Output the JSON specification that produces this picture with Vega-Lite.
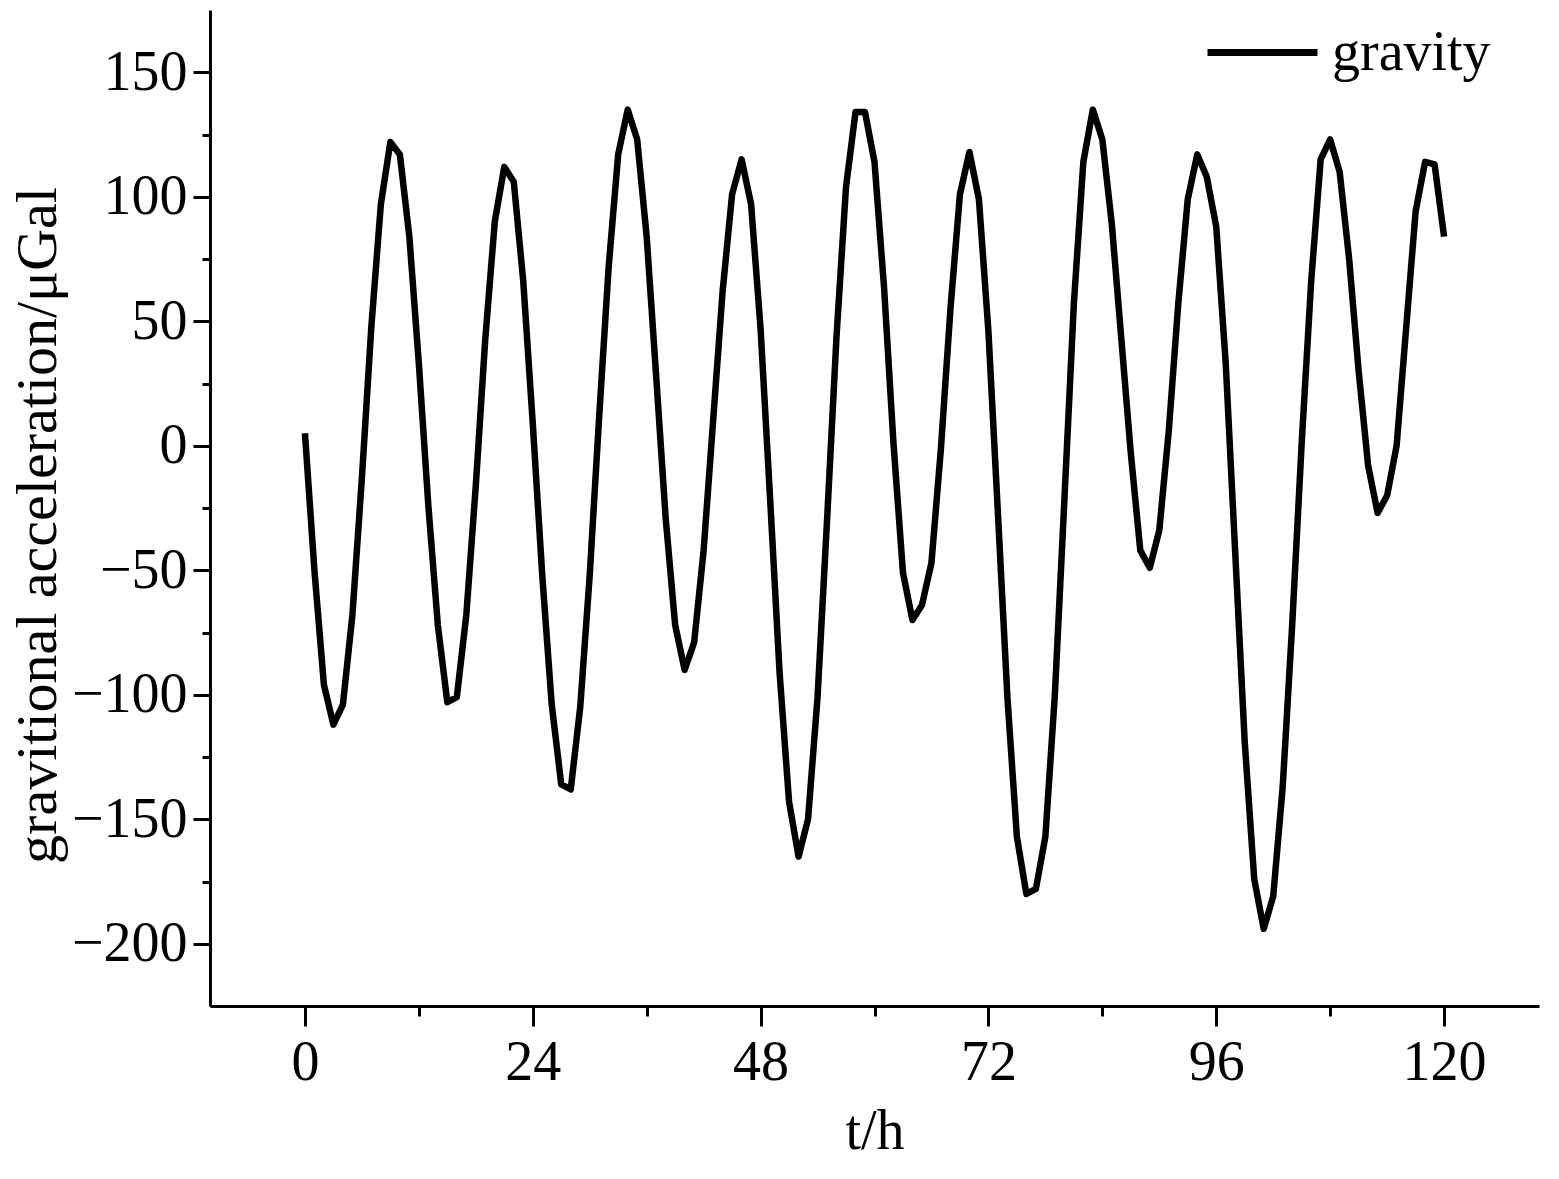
{
  "$schema": "https://vega.github.io/schema/vega-lite/v6.json",
  "autosize": {"type": "none"},
  "width": 1329,
  "height": 996,
  "padding": {"left": 210, "top": 10, "right": 20, "bottom": 173},
  "background": "white",
  "config": {
    "view": {"stroke": null},
    "font": "Liberation Serif",
    "axis": {
      "domainColor": "black",
      "domainWidth": 3,
      "tickColor": "black",
      "tickWidth": 3,
      "grid": false,
      "labelFont": "Liberation Serif",
      "labelFontSize": 56,
      "labelColor": "black",
      "titleFont": "Liberation Serif",
      "titleFontSize": 56,
      "titleFontWeight": "normal",
      "titleColor": "black"
    },
    "legend": {
      "labelFont": "Liberation Serif",
      "labelFontSize": 56,
      "labelColor": "black"
    }
  },
  "data": {
    "values": [
      {"t": 0, "g": 5}, {"t": 1, "g": -50}, {"t": 2, "g": -96}, {"t": 3, "g": -112}, {"t": 4, "g": -104},
      {"t": 5, "g": -68}, {"t": 6, "g": -13}, {"t": 7, "g": 48}, {"t": 8, "g": 97}, {"t": 9, "g": 122},
      {"t": 10, "g": 117}, {"t": 11, "g": 84}, {"t": 12, "g": 33}, {"t": 13, "g": -24}, {"t": 14, "g": -72},
      {"t": 15, "g": -103}, {"t": 16, "g": -101}, {"t": 17, "g": -68}, {"t": 18, "g": -16}, {"t": 19, "g": 43},
      {"t": 20, "g": 90}, {"t": 21, "g": 112}, {"t": 22, "g": 106}, {"t": 23, "g": 66}, {"t": 24, "g": 9},
      {"t": 25, "g": -52}, {"t": 26, "g": -104}, {"t": 27, "g": -136}, {"t": 28, "g": -138}, {"t": 29, "g": -105},
      {"t": 30, "g": -52}, {"t": 31, "g": 12}, {"t": 32, "g": 72}, {"t": 33, "g": 117}, {"t": 34, "g": 135},
      {"t": 35, "g": 123}, {"t": 36, "g": 84}, {"t": 37, "g": 28}, {"t": 38, "g": -29}, {"t": 39, "g": -72},
      {"t": 40, "g": -90}, {"t": 41, "g": -79}, {"t": 42, "g": -42}, {"t": 43, "g": 10}, {"t": 44, "g": 62},
      {"t": 45, "g": 101}, {"t": 46, "g": 115}, {"t": 47, "g": 97}, {"t": 48, "g": 47}, {"t": 49, "g": -21},
      {"t": 50, "g": -91}, {"t": 51, "g": -143}, {"t": 52, "g": -165}, {"t": 53, "g": -150}, {"t": 54, "g": -101},
      {"t": 55, "g": -30}, {"t": 56, "g": 44}, {"t": 57, "g": 104}, {"t": 58, "g": 134}, {"t": 59, "g": 134},
      {"t": 60, "g": 114}, {"t": 61, "g": 64}, {"t": 62, "g": 1}, {"t": 63, "g": -51}, {"t": 64, "g": -70},
      {"t": 65, "g": -64}, {"t": 66, "g": -47}, {"t": 67, "g": -1}, {"t": 68, "g": 55}, {"t": 69, "g": 101},
      {"t": 70, "g": 118}, {"t": 71, "g": 99}, {"t": 72, "g": 46}, {"t": 73, "g": -27}, {"t": 74, "g": -101},
      {"t": 75, "g": -157}, {"t": 76, "g": -180}, {"t": 77, "g": -178}, {"t": 78, "g": -157}, {"t": 79, "g": -100},
      {"t": 80, "g": -22}, {"t": 81, "g": 57}, {"t": 82, "g": 114}, {"t": 83, "g": 135}, {"t": 84, "g": 123},
      {"t": 85, "g": 89}, {"t": 86, "g": 43}, {"t": 87, "g": -3}, {"t": 88, "g": -42}, {"t": 89, "g": -49},
      {"t": 90, "g": -34}, {"t": 91, "g": 6}, {"t": 92, "g": 57}, {"t": 93, "g": 99}, {"t": 94, "g": 117},
      {"t": 95, "g": 108}, {"t": 96, "g": 88}, {"t": 97, "g": 33}, {"t": 98, "g": -43}, {"t": 99, "g": -119},
      {"t": 100, "g": -174}, {"t": 101, "g": -194}, {"t": 102, "g": -181}, {"t": 103, "g": -137}, {"t": 104, "g": -72},
      {"t": 105, "g": 1}, {"t": 106, "g": 66}, {"t": 107, "g": 115}, {"t": 108, "g": 123}, {"t": 109, "g": 110},
      {"t": 110, "g": 75}, {"t": 111, "g": 30}, {"t": 112, "g": -8}, {"t": 113, "g": -27}, {"t": 114, "g": -20},
      {"t": 115, "g": 0}, {"t": 116, "g": 47}, {"t": 117, "g": 94}, {"t": 118, "g": 114}, {"t": 119, "g": 113},
      {"t": 120, "g": 84}
    ]
  },
  "mark": {"type": "line", "strokeWidth": 6.5, "strokeJoin": "round", "strokeCap": "butt"},
  "encoding": {
    "x": {
      "field": "t",
      "type": "quantitative",
      "scale": {"domain": [-10, 130], "nice": false, "zero": false},
      "axis": {
        "title": "t/h",
        "values": [0, 12, 24, 36, 48, 60, 72, 84, 96, 108, 120],
        "labelExpr": "datum.value % 24 === 0 ? datum.label : ''",
        "tickSize": {"condition": {"test": "datum.value % 24 === 0", "value": 20}, "value": 10},
        "labelPadding": 9,
        "labelFlush": false,
        "labelOverlap": false,
        "titlePadding": 14
      }
    },
    "y": {
      "field": "g",
      "type": "quantitative",
      "scale": {"domain": [-225, 175], "nice": false, "zero": false},
      "axis": {
        "title": "gravitional acceleration/μGal",
        "titleFontSize": 58,
        "titleY": 515,
        "values": [-200, -175, -150, -125, -100, -75, -50, -25, 0, 25, 50, 75, 100, 125, 150],
        "labelExpr": "datum.value % 50 === 0 ? datum.label : ''",
        "tickSize": {"condition": {"test": "datum.value % 50 === 0", "value": 17}, "value": 8},
        "labelPadding": 6,
        "labelFlush": false,
        "labelOverlap": false,
        "titlePadding": 4
      }
    },
    "color": {
      "datum": "gravity",
      "type": "nominal",
      "scale": {"range": ["black"]},
      "legend": {
        "title": null,
        "orient": "none",
        "legendX": 994,
        "legendY": -16,
        "padding": 0,
        "symbolType": "stroke",
        "symbolSize": 12100,
        "symbolStrokeWidth": 7,
        "labelOffset": 11
      }
    }
  }
}
